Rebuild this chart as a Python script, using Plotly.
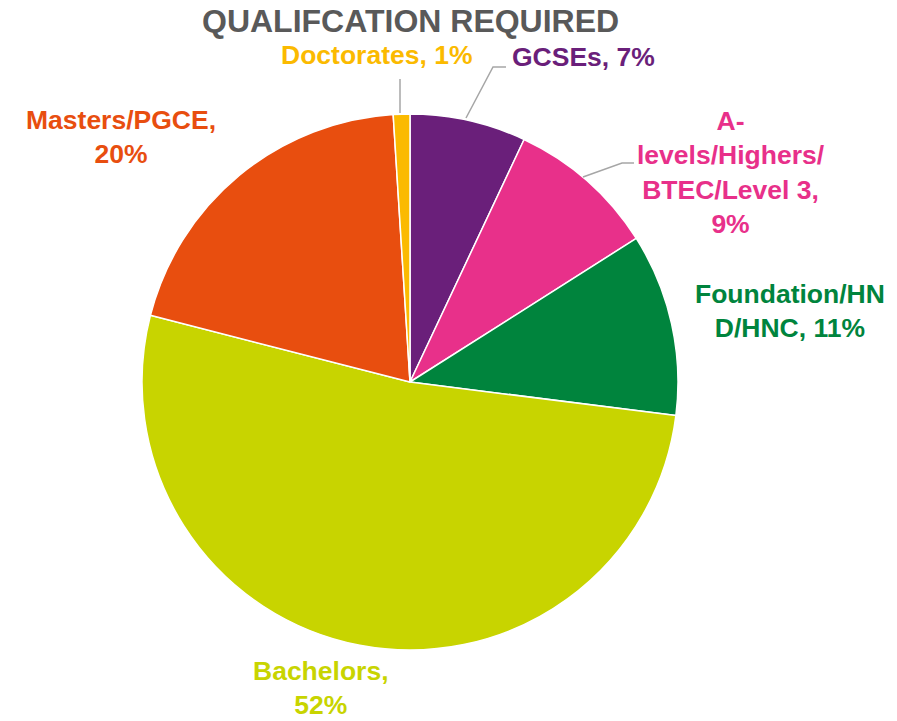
import plotly.graph_objects as go

W, H = 897, 721

categories = ["GCSEs", "A-levels/Highers/BTEC/Level 3", "Foundation/HND/HNC",
              "Bachelors", "Masters/PGCE", "Doctorates"]
values = [7, 9, 11, 52, 20, 1]
label_texts = ["GCSEs, 7%", "A-<br>levels/Highers/<br>BTEC/Level 3,<br>9%",
               "Foundation/HN<br>D/HNC, 11%", "Bachelors,<br>52%",
               "Masters/PGCE,<br>20%", "Doctorates, 1%"]
colors = ["#6A1F7A", "#E8308A", "#00843D", "#C8D400", "#E84E0F", "#FBBA00"]
title_text = "QUALIFCATION REQUIRED"

# label placements in pixels (x centre, y centre)
label_pos = [(583, 57), (731, 172), (790, 311), (321, 688), (121, 137), (376, 55)]
leaders = [
    [(466, 118), (493, 67), (506, 67)],
    [(583, 177), (622, 163), (634, 163)],
    [(400, 113), (400, 79)],
]

def px(x):
    return x / W

def py(y):
    return 1 - y / H

cx, cy, r = 410, 382, 268

fig = go.Figure(go.Pie(
    labels=categories,
    values=values,
    sort=False,
    direction="clockwise",
    rotation=0,
    textinfo="none",
    hoverinfo="label+percent",
    marker=dict(colors=colors, line=dict(color="white", width=1.5)),
    domain=dict(x=[px(cx - r), px(cx + r)], y=[py(cy + r), py(cy - r)]),
    showlegend=False,
))

annotations = [dict(
    text="<b>" + title_text + "</b>", x=px(410), y=py(21), xref="paper", yref="paper",
    showarrow=False, xanchor="center", yanchor="middle",
    font=dict(family="Liberation Sans, Arial", size=32, color="#595959"))]

for t, (x, y), c in zip(label_texts, label_pos, colors):
    annotations.append(dict(
        text="<b>" + t + "</b>", x=px(x), y=py(y), xref="paper", yref="paper",
        showarrow=False, xanchor="center", yanchor="middle", align="center",
        font=dict(family="Liberation Sans, Arial", size=26.5, color=c)))

shapes = []
for pts in leaders:
    path = "M " + " L ".join(f"{px(x)},{py(y)}" for x, y in pts)
    shapes.append(dict(type="path", path=path, xref="paper", yref="paper",
                       line=dict(color="#A6A6A6", width=1.5)))

fig.update_layout(
    width=W, height=H,
    margin=dict(l=0, r=0, t=0, b=0),
    paper_bgcolor="white", plot_bgcolor="white",
    annotations=annotations, shapes=shapes,
)

fig.write_html("out.html", config={"displayModeBar": False},
               post_script="document.body.style.margin='0';document.body.style.overflow='hidden';")
